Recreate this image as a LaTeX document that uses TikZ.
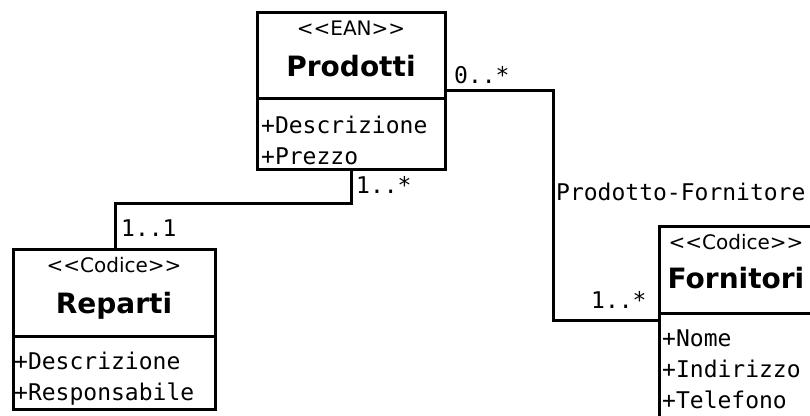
\documentclass[tikz,border=0pt]{standalone}
\usepackage{fontspec}
\setmainfont{DejaVu Sans}
\newfontfamily\umlmono{DejaVu Sans Mono}
\usetikzlibrary{positioning,calc}
\tikzset{
  box/.style   ={draw,line width=3pt,anchor=north west,inner sep=0pt,
                 outer sep=0pt},
  stereo/.style={anchor=base,inner sep=0pt,
                 font=\fontsize{20}{20}\selectfont},
  cname/.style ={anchor=base,inner sep=0pt,
                 font=\fontsize{28}{28}\selectfont\bfseries},
  attrs/.style ={anchor=base west,align=left,inner sep=0pt,
                 font=\umlmono\fontsize{23}{31}\selectfont},
  mult/.style  ={anchor=base west,inner sep=0pt,
                 font=\umlmono\fontsize{23}{23}\selectfont},
  assoc/.style ={line width=3pt},
}
\newcommand{\stype}[1]{<{}<#1>{}>}

\begin{document}
\begin{tikzpicture}[x=1pt,y=-1pt]
\clip (0,0) rectangle (810,415);
\fill[white] (0,0) rectangle (810,415);
% Prodotti
\node[box,minimum width=188pt,minimum height=86pt] (prodH) at (257,12) {};
\node[box,minimum width=188pt,minimum height=71pt] (prodA) at (prodH.south west) {};
\node[stereo] (prodS) at ([yshift=-23pt]prodH.north) {\stype{EAN}};
\node[cname] (prodN) at ([yshift=-64pt]prodH.north) {Prodotti};
\node[attrs] (prodT) at ([xshift=4pt,yshift=-66pt]prodA.north west) {+Descrizione\\+Prezzo};
% Reparti
\node[box,minimum width=202pt,minimum height=87pt] (repH) at (13,249) {};
\node[box,minimum width=202pt,minimum height=73pt] (repA) at (repH.south west) {};
\node[stereo] (repS) at ([yshift=-23pt]repH.north) {\stype{Codice}};
\node[cname] (repN) at ([yshift=-64pt]repH.north) {Reparti};
\node[attrs] (repT) at ([xshift=1pt,yshift=-64pt]repA.north west) {+Descrizione\\+Responsabile};
% Fornitori
\node[box,minimum width=154pt,minimum height=87pt] (fornH) at (659,226) {};
\node[box,minimum width=154pt,minimum height=150pt] (fornA) at (fornH.south west) {};
\node[stereo] (fornS) at ([yshift=-23pt]fornH.north) {\stype{Codice}};
\node[cname] (fornN) at ([yshift=-62pt]fornH.north) {Fornitori};
\node[attrs] (fornT) at ([xshift=3pt,yshift=-95pt]fornA.north west) {+Nome\\+Indirizzo\\+Telefono};
% associazioni
\coordinate (pf1) at (553,90);
\coordinate (pf2) at (553,320);
\draw[assoc] (prodH.east |- pf1) -- (pf1) -- (pf2) -- (fornA.west |- pf2);
\coordinate (pr1) at (351,203);
\coordinate (pr2) at (115,203);
\draw[assoc] (prodA.south -| pr1) -- (pr1) -- (pr2) -- (repH.north -| pr2);
\node[mult] (m1) at (454,83) {0..*};
\node[mult] (m2) at (591,308) {1..*};
\node[mult] (m3) at (356,193) {1..*};
\node[mult] (m4) at (121,236) {1..1};
\node[mult] (lab) at (556,200) {Prodotto-Fornitore};
\end{tikzpicture}
\end{document}
